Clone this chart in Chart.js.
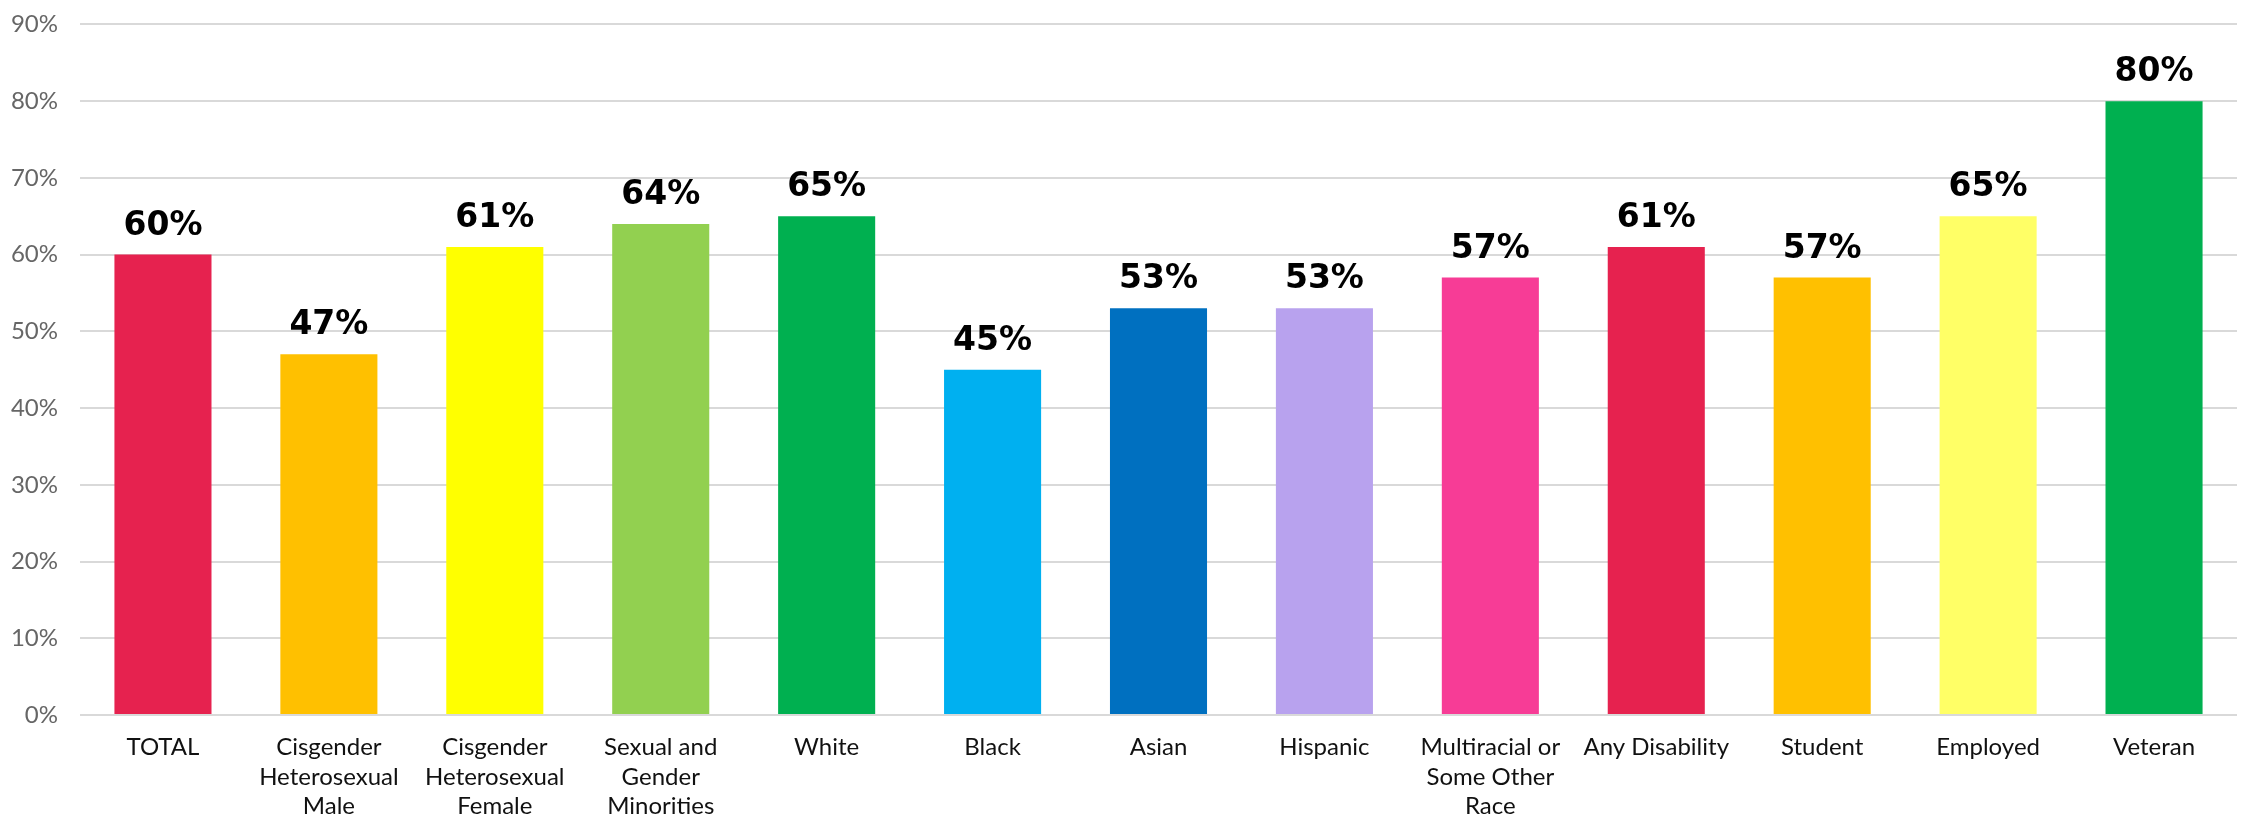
<!DOCTYPE html>
<html>
<head>
<meta charset="utf-8">
<script src="https://cdn.jsdelivr.net/npm/chart.js@4"></script>
<style>
  html, body { margin: 0; padding: 0; background: #fff; }
  #wrap { width: 2247px; height: 818px; }
</style>
</head>
<body>
<div id="wrap"><canvas id="myChart"></canvas></div>
<script>
const categorias = [
  "TOTAL",
  ["Cisgender", "Heterosexual", "Male"],
  ["Cisgender", "Heterosexual", "Female"],
  ["Sexual and", "Gender", "Minorities"],
  "White",
  "Black",
  "Asian",
  "Hispanic",
  ["Multiracial or", "Some Other", "Race"],
  "Any Disability",
  "Student",
  "Employed",
  "Veteran"
];
const valores = [60, 47, 61, 64, 65, 45, 53, 53, 57, 61, 57, 65, 80];
const colores = ["#E6224F", "#FFC000", "#FFFF00", "#92D050", "#00B050", "#00B0F0",
  "#0070C0", "#B8A2EE", "#F73C96", "#E6224F", "#FFC000", "#FFFF66", "#00B050"];
const ticksY = [0, 10, 20, 30, 40, 50, 60, 70, 80, 90];

// etiquetas encima de cada barra
const etiquetas = {
  id: "etiquetas",
  afterDatasetsDraw(chart) {
    const ctx = chart.ctx;
    const meta = chart.getDatasetMeta(0);
    ctx.save();
    ctx.font = "bold 33px 'DejaVu Sans', sans-serif";
    ctx.fillStyle = "#000";
    ctx.textAlign = "center";
    ctx.textBaseline = "alphabetic";
    meta.data.forEach((bar, i) => {
      ctx.fillText(valores[i] + "%", bar.x, bar.y - 20);
    });
    ctx.restore();
  }
};

const ctx = document.getElementById("myChart").getContext("2d");
const myChart = new Chart(ctx, {
  type: "bar",
  data: {
    labels: categorias,
    datasets: [{
      data: valores,
      backgroundColor: colores,
      borderWidth: 0,
      categoryPercentage: 1,
      barPercentage: 0.585
    }]
  },
  options: {
    responsive: true,
    maintainAspectRatio: false,
    animation: false,
    layout: { padding: { top: 13, right: 10, left: 0, bottom: 0 } },
    plugins: { legend: { display: false }, tooltip: { enabled: false } },
    scales: {
      x: {
        grid: { display: false, drawTicks: false },
        border: { display: false },
        ticks: {
          autoSkip: false,
          maxRotation: 0,
          minRotation: 0,
          padding: 18,
          color: "#111",
          font: { family: "Lato, 'Noto Sans', sans-serif", size: 24, lineHeight: 1.22 }
        },
        afterFit(scale) { scale.height = 103; }
      },
      y: {
        min: 0,
        max: 90,
        afterBuildTicks(scale) { scale.ticks = ticksY.map(v => ({ value: v })); },
        grid: { color: "#d9d9d9", lineWidth: 2, drawTicks: false },
        border: { display: false },
        ticks: {
          padding: 22,
          color: "#666",
          font: { family: "Lato, 'Noto Sans', sans-serif", size: 24, lineHeight: 0.2 },
          callback: v => v + "%"
        },
        afterFit(scale) { scale.width = 80; }
      }
    }
  },
  plugins: [etiquetas]
});
</script>
</body>
</html>
